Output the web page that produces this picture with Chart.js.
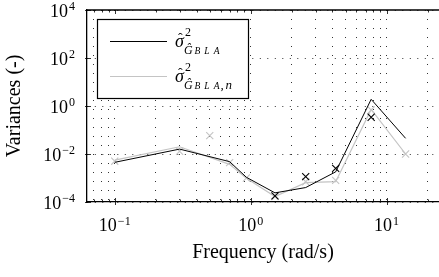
<!DOCTYPE html>
<html>
<head>
<meta charset="utf-8">
<script src="https://cdn.jsdelivr.net/npm/chart.js@4/dist/chart.umd.min.js"></script>
<style>
  html, body { margin: 0; padding: 0; background: #fff; }
  #wrap { width: 439px; height: 277px; }
</style>
</head>
<body>
<div id="wrap"><canvas id="chart" width="439" height="277"></canvas></div>
<script>
// Frecuencias (rad/s) y varianzas
const freqs = [0.1, 0.3, 0.7, 0.93, 1.51, 2.54, 4.22, 7.7, 13.8];
const varBla = [4.5e-3, 0.016, 4.8e-3, 1.07e-3, 2.4e-4, 4e-4, 1.8e-3, 1.9, 0.045];
const varBlaN = [5.6e-3, 0.02, 3.7e-3, 9.7e-4, 1.7e-4, 6.4e-4, 7e-4, 0.72, 0.01];

// Cruces (estimaciones individuales)
const crossFreqsBlack = [1.51, 2.54, 4.22, 7.7];
const crossBlack = [1.8e-4, 1.14e-3, 2.5e-3, 0.34];
const crossFreqsGray = [0.1, 0.3, 0.5, 0.7, 0.93, 1.51, 2.54, 4.22, 7.7, 13.8];
const crossGray = [5e-3, 0.013, 0.058, 4.4e-3, 1e-3, 1.7e-4, 7e-4, 8e-4, 0.68, 0.01];

// Ticks de los ejes
const xTicks = [0.07, 0.08, 0.09, 0.1, 0.2, 0.3, 0.4, 0.5, 0.6, 0.7, 0.8, 0.9,
                1, 2, 3, 4, 5, 6, 7, 8, 9, 10, 20];
const yTicks = [1e-4, 1e-2, 1, 1e2, 1e4];

const SERIF = '"Liberation Serif", "DejaVu Serif", serif';
const GRAY = '#c4c4c4';

function isDecade(v) {
    const l = Math.log10(v);
    return Math.abs(l - Math.round(l)) < 1e-6;
}

function exponentOf(v) {
    const e = Math.round(Math.log10(v));
    return e < 0 ? '\u2212' + Math.abs(e) : String(e);
}

function toPoints(xs, ys) {
    return xs.map((x, i) => ({x: x, y: ys[i]}));
}

// Dibuja "10" con exponente; align: 'center' o 'right'
function drawPower(ctx, v, x, base, align) {
    const exp = exponentOf(v);
    ctx.font = '18px ' + SERIF;
    const w10 = ctx.measureText('10').width;
    ctx.font = '12px ' + SERIF;
    const we = ctx.measureText(exp).width;
    const total = w10 + 1 + we;
    const x0 = align === 'center' ? x - total / 2 : x - total;
    ctx.textAlign = 'left';
    ctx.textBaseline = 'alphabetic';
    ctx.font = '18px ' + SERIF;
    ctx.fillText('10', x0, base);
    ctx.font = '12px ' + SERIF;
    ctx.fillText(exp, x0 + w10 + 1, base - 6.5);
}

// Marco superior, marcas de ticks hacia dentro y etiquetas 10^n
const frameTicks = {
    id: 'frameTicks',
    afterDraw(chart) {
        const {ctx, chartArea} = chart;
        const xs = chart.scales.x;
        const ys = chart.scales.y;
        ctx.save();
        ctx.strokeStyle = '#000';
        ctx.lineWidth = 1.3;
        ctx.beginPath();
        ctx.moveTo(chartArea.left, chartArea.top);
        ctx.lineTo(chartArea.right, chartArea.top);
        ctx.stroke();

        ctx.lineWidth = 0.8;
        ctx.beginPath();
        xs.ticks.forEach(t => {
            const px = Math.round(xs.getPixelForValue(t.value)) + 0.5;
            const major = isDecade(t.value);
            const len = major ? 4 : 2.5;
            ctx.moveTo(px, chartArea.bottom + (major ? 3 : 0));
            ctx.lineTo(px, chartArea.bottom - len);
            ctx.moveTo(px, chartArea.top);
            ctx.lineTo(px, chartArea.top + len);
        });
        ys.ticks.forEach(t => {
            const py = Math.round(ys.getPixelForValue(t.value)) + 0.5;
            ctx.moveTo(chartArea.left - 2, py);
            ctx.lineTo(chartArea.left + 4, py);
        });
        ctx.stroke();

        ctx.fillStyle = '#000';
        xs.ticks.forEach(t => {
            if (!isDecade(t.value)) return;
            drawPower(ctx, t.value, xs.getPixelForValue(t.value), chartArea.bottom + 29, 'center');
        });
        ys.ticks.forEach(t => {
            drawPower(ctx, t.value, chartArea.left - 12, ys.getPixelForValue(t.value) + 6.5, 'right');
        });
        ctx.restore();
    }
};

// Leyenda con notacion matematica
const mathLegend = {
    id: 'mathLegend',
    afterDraw(chart) {
        const {ctx, chartArea} = chart;
        const left = chartArea.left + 10;
        const top = chartArea.top + 9;
        const w = 151, h = 79;
        ctx.save();
        ctx.fillStyle = '#fff';
        ctx.fillRect(left, top, w, h);
        ctx.strokeStyle = '#000';
        ctx.lineWidth = 1.2;
        ctx.strokeRect(left + 0.5, top + 0.5, w, h);

        const entries = [
            {color: '#000', sub: 'BLA', extra: ''},
            {color: GRAY, sub: 'BLA', extra: ',n'}
        ];
        entries.forEach((e, i) => {
            const lineY = top + 22 + i * 35;
            const base = lineY + 6;
            ctx.strokeStyle = e.color;
            ctx.lineWidth = i === 0 ? 1 : 1.2;
            ctx.beginPath();
            ctx.moveTo(left + 13, lineY + 0.5);
            ctx.lineTo(left + 70, lineY + 0.5);
            ctx.stroke();

            ctx.fillStyle = '#000';
            ctx.textBaseline = 'alphabetic';
            ctx.textAlign = 'left';
            const x = left + 78;
            ctx.font = 'italic 18px ' + SERIF;
            ctx.fillText('σ', x, base);
            const sw = ctx.measureText('σ').width;
            ctx.font = '14px ' + SERIF;
            ctx.textAlign = 'center';
            ctx.fillText('ˆ', x + sw / 2 + 1, base - 4);
            ctx.textAlign = 'left';
            ctx.font = '12px ' + SERIF;
            ctx.fillText('2', x + sw + 1, base - 11);
            ctx.font = 'italic 12px ' + SERIF;
            let sx = x + sw;
            ctx.fillText('Ĝ', sx, base + 7);
            sx += ctx.measureText('Ĝ').width + 2;
            ctx.font = 'italic 9.5px ' + SERIF;
            e.sub.split('').forEach(c => {
                ctx.fillText(c, sx, base + 7);
                sx += ctx.measureText(c).width + 4;
            });
            if (e.extra) {
                ctx.font = 'italic 13px ' + SERIF;
                ctx.fillText(',', sx - 3, base + 7);
                ctx.fillText('n', sx + 2, base + 7);
            }
        });
        ctx.restore();
    }
};

const ctx = document.getElementById('chart').getContext('2d');
new Chart(ctx, {
    type: 'line',
    data: {
        datasets: [
            {
                label: 'var G BLA',
                data: toPoints(freqs, varBla),
                borderColor: '#000',
                borderWidth: 1,
                pointRadius: 0,
                tension: 0
            },
            {
                label: 'cross black',
                data: toPoints(crossFreqsBlack, crossBlack),
                showLine: false,
                pointStyle: 'crossRot',
                pointRadius: 5,
                borderColor: '#000',
                borderWidth: 1.1
            },
            {
                label: 'var G BLA,n',
                data: toPoints(freqs, varBlaN),
                borderColor: GRAY,
                borderWidth: 1.2,
                pointRadius: 0,
                tension: 0
            },
            {
                label: 'cross gray',
                data: toPoints(crossFreqsGray, crossGray),
                showLine: false,
                pointStyle: 'crossRot',
                pointRadius: 5,
                borderColor: GRAY,
                borderWidth: 1.1
            }
        ]
    },
    options: {
        responsive: false,
        animation: false,
        layout: { autoPadding: false, padding: 0 },
        plugins: {
            legend: { display: false },
            tooltip: { enabled: false }
        },
        scales: {
            x: {
                type: 'logarithmic',
                min: 0.0625,
                max: 24.3,
                afterBuildTicks: s => { s.ticks = xTicks.map(v => ({value: v})); },
                afterFit: s => {
                    s.height = 75;
                    s.paddingLeft = 0;
                    s.paddingRight = 0;
                },
                ticks: { display: false, autoSkip: false },
                grid: { color: '#333', lineWidth: 1, drawTicks: false },
                border: { color: '#000', width: 1.3, dash: [1, 8] },
                title: {
                    display: true,
                    text: 'Frequency (rad/s)',
                    color: '#000',
                    font: { family: SERIF, size: 20 },
                    padding: { top: 0, bottom: 12 }
                }
            },
            y: {
                type: 'logarithmic',
                min: 1e-4,
                max: 1e4,
                afterBuildTicks: s => { s.ticks = yTicks.map(v => ({value: v})); },
                afterFit: s => {
                    s.width = 87;
                    s.paddingTop = 10;
                    s.paddingBottom = 0;
                },
                ticks: { display: false, autoSkip: false },
                grid: { color: '#333', lineWidth: 1, drawTicks: false },
                border: { color: '#000', width: 1.3, dash: [1, 6.5] },
                title: {
                    display: true,
                    text: 'Variances (-)',
                    color: '#000',
                    font: { family: SERIF, size: 20 },
                    padding: { top: 3, bottom: 0 }
                }
            }
        }
    },
    plugins: [frameTicks, mathLegend]
});
</script>
</body>
</html>
